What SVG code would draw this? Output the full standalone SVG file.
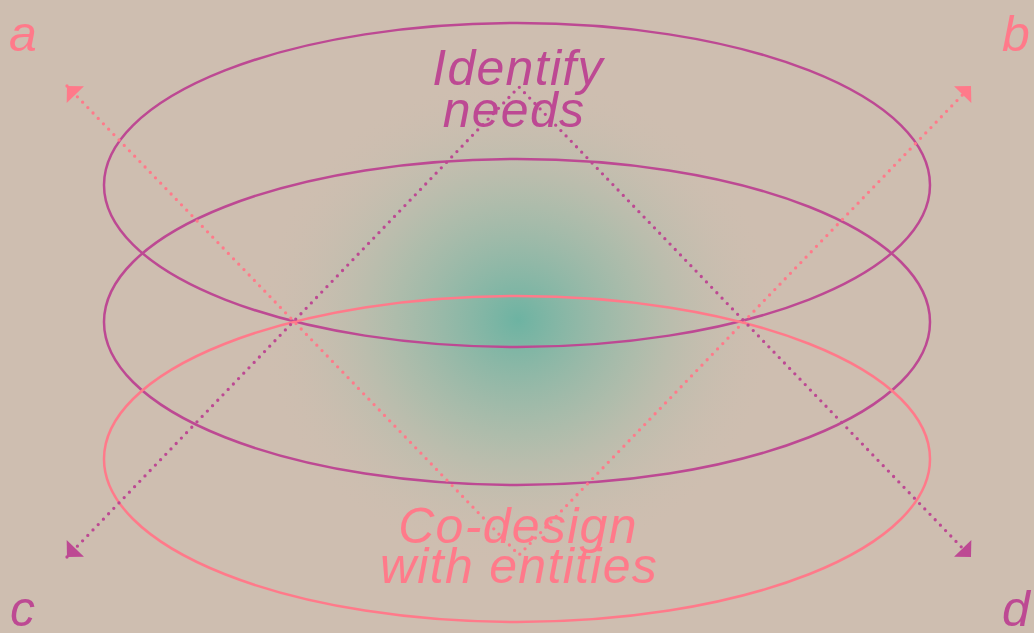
<svg xmlns="http://www.w3.org/2000/svg" width="1034" height="633" viewBox="0 0 1034 633">
  <defs>
    <radialGradient id="glow" cx="518" cy="320" r="260" gradientUnits="userSpaceOnUse" gradientTransform="translate(518 320) scale(1 0.95) translate(-518 -320)">
      <stop offset="0" stop-color="#6db3a2"/>
      <stop offset="0.5" stop-color="#a7bcaa" stop-opacity="0.75"/>
      <stop offset="1" stop-color="#cebeb0" stop-opacity="0"/>
    </radialGradient>
    <marker id="arrPink" markerUnits="userSpaceOnUse" viewBox="-13 -13 14 26" refX="0" refY="0" markerWidth="14" markerHeight="26" orient="auto-start-reverse">
      <path d="M0,0 L-12,-12 L-12,12 z" fill="#ff7a8a"/>
    </marker>
    <marker id="arrMag" markerUnits="userSpaceOnUse" viewBox="-13 -13 14 26" refX="0" refY="0" markerWidth="14" markerHeight="26" orient="auto-start-reverse">
      <path d="M0,0 L-12,-12 L-12,12 z" fill="#bd4993"/>
    </marker>
  </defs>
  <style>
    .ell { fill: none; stroke-width: 2.5; }
    .mag { stroke: #bd4993; }
    .pink { stroke: #ff7a8a; }
    .dot { fill: none; stroke-width: 3.3; stroke-linecap: round; stroke-dasharray: 0 7.5; }
    .lbl { font-family: "Liberation Sans", Arial, sans-serif; font-style: italic; font-size: 50px; }
    .big { font-family: "Liberation Sans", Arial, sans-serif; font-style: italic; font-size: 50px; letter-spacing: 1.3px; text-anchor: middle; }
  </style>
  <rect x="0" y="0" width="1034" height="633" fill="#cebeb0"/>
  <ellipse cx="518" cy="320" rx="300" ry="290" fill="url(#glow)"/>

  <g id="layer-top">
    <ellipse class="ell mag" cx="517" cy="185" rx="413" ry="162"/>
  </g>
  <g id="layer-middle">
    <ellipse class="ell mag" cx="517" cy="322" rx="413" ry="163"/>
  </g>
  <g id="layer-bottom">
    <ellipse class="ell pink" cx="517" cy="459" rx="413" ry="163"/>
  </g>

  <g id="node-identify">
    <text class="big" fill="#bd4993" x="518" y="85">Identify</text>
    <text class="big" fill="#bd4993" x="514" y="127">needs</text>
  </g>
  <g id="node-codesign">
    <text class="big" fill="#ff7a8a" x="518" y="543">Co-design</text>
    <text class="big" fill="#ff7a8a" x="519" y="583">with entities</text>
  </g>

  <g id="node-a"><text class="lbl" fill="#ff7a8a" x="9" y="51">a</text></g>
  <g id="node-b"><text class="lbl" fill="#ff7a8a" x="1002" y="51">b</text></g>
  <g id="node-c"><text class="lbl" fill="#bd4993" x="10" y="626">c</text></g>
  <g id="node-d"><text class="lbl" fill="#bd4993" x="1002" y="626">d</text></g>

  <g id="connectors">
    <polyline class="dot pink" points="67,86 519,555 971,86" marker-start="url(#arrPink)" marker-end="url(#arrPink)"/>
    <polyline class="dot mag" points="67,557 519,87 971,557" marker-start="url(#arrMag)" marker-end="url(#arrMag)"/>
  </g>
</svg>
